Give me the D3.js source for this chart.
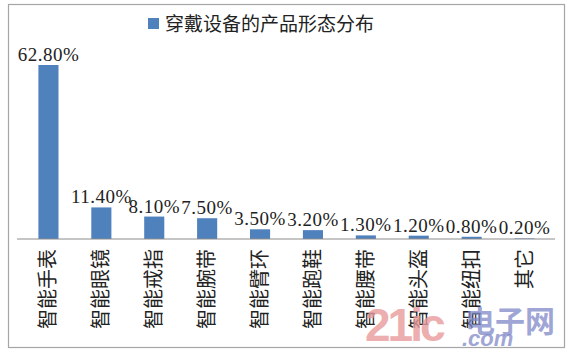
<!DOCTYPE html>
<html><head><meta charset="utf-8">
<script src="https://cdn.jsdelivr.net/npm/d3@7"></script>
<style>body{margin:0;background:#fff}svg{display:block}</style>
</head><body>
<script>
const title = "穿戴设备的产品形态分布";
const categories = ["智能手表","智能眼镜","智能戒指","智能腕带","智能臂环","智能跑鞋","智能腰带","智能头盔","智能纽扣","其它"];
const values = [62.8,11.4,8.1,7.5,3.5,3.2,1.3,1.2,0.8,0.2];
const valueLabels = ["62.80%","11.40%","8.10%","7.50%","3.50%","3.20%","1.30%","1.20%","0.80%","0.20%"];

const W = 568, H = 355;
const svg = d3.select("body").append("svg").attr("width", W).attr("height", H);
svg.append("rect").attr("x", 8.5).attr("y", 4.5).attr("width", 556).attr("height", 343)
  .attr("fill", "#fff").attr("stroke", "#a6a6a6").attr("stroke-width", 1.2);

const x = d3.scaleBand().domain(categories).range([22, 551]).paddingInner(0.62).paddingOuter(0.31);
const y = d3.scaleLinear().domain([0, 62.8]).range([239, 65]);

svg.selectAll("rect.bar").data(values).join("rect").attr("class","bar")
  .attr("x", (d,i) => x(categories[i])).attr("width", x.bandwidth())
  .attr("y", d => y(d)).attr("height", d => y(0) - y(d)).attr("fill", "#4f81bd");

const axis = d3.axisBottom(x).tickSize(0).tickFormat("");
const ag = svg.append("g").attr("transform", "translate(0,239)").call(axis);
ag.select(".domain").attr("stroke", "#8c8c8c").attr("stroke-width", 1.2).attr("d", "M17,0H555");

svg.selectAll("text.cat").data(categories).join("text").attr("class","cat")
  .attr("transform", d => `translate(${x(d)+x.bandwidth()/2+7},249) rotate(-90)`)
  .attr("text-anchor","end").attr("font-family","'Noto Sans CJK SC'").attr("font-size",20)
  .attr("fill","#222").text(d => d);

svg.selectAll("text.val").data(values).join("text").attr("class","val")
  .attr("x", (d,i) => x(categories[i]) + x.bandwidth()/2).attr("y", d => y(d) - 4)
  .attr("text-anchor","middle").attr("font-family","'Liberation Serif'").attr("font-size",19)
  .attr("letter-spacing", 0.5).attr("fill","#222").text((d,i) => valueLabels[i]);

svg.append("rect").attr("x",148).attr("y",18).attr("width",11).attr("height",11).attr("fill","#4f81bd");
svg.append("text").attr("x",165).attr("y",31).attr("font-family","'Noto Sans CJK SC'").attr("font-size",19)
  .attr("fill","#222").text(title);

// watermark
svg.append("text").attr("x",365).attr("y",341).attr("font-family","'Liberation Sans'").attr("font-weight","bold")
  .attr("font-size",46).attr("fill","#e89a9a").attr("opacity",0.8).attr("letter-spacing",-3).text("21ic");
svg.append("text").attr("x",465).attr("y",332).attr("font-family","'Noto Sans CJK SC'").attr("font-weight","bold")
  .attr("font-size",30).attr("fill","#8088c8").attr("opacity",0.75).text("电子网");
svg.append("text").attr("x",462).attr("y",346).attr("font-family","'Liberation Sans'").attr("font-weight","bold").attr("font-style","italic")
  .attr("font-size",22).attr("fill","#8088c8").attr("opacity",0.75).text(".com");
</script>
</body></html>
